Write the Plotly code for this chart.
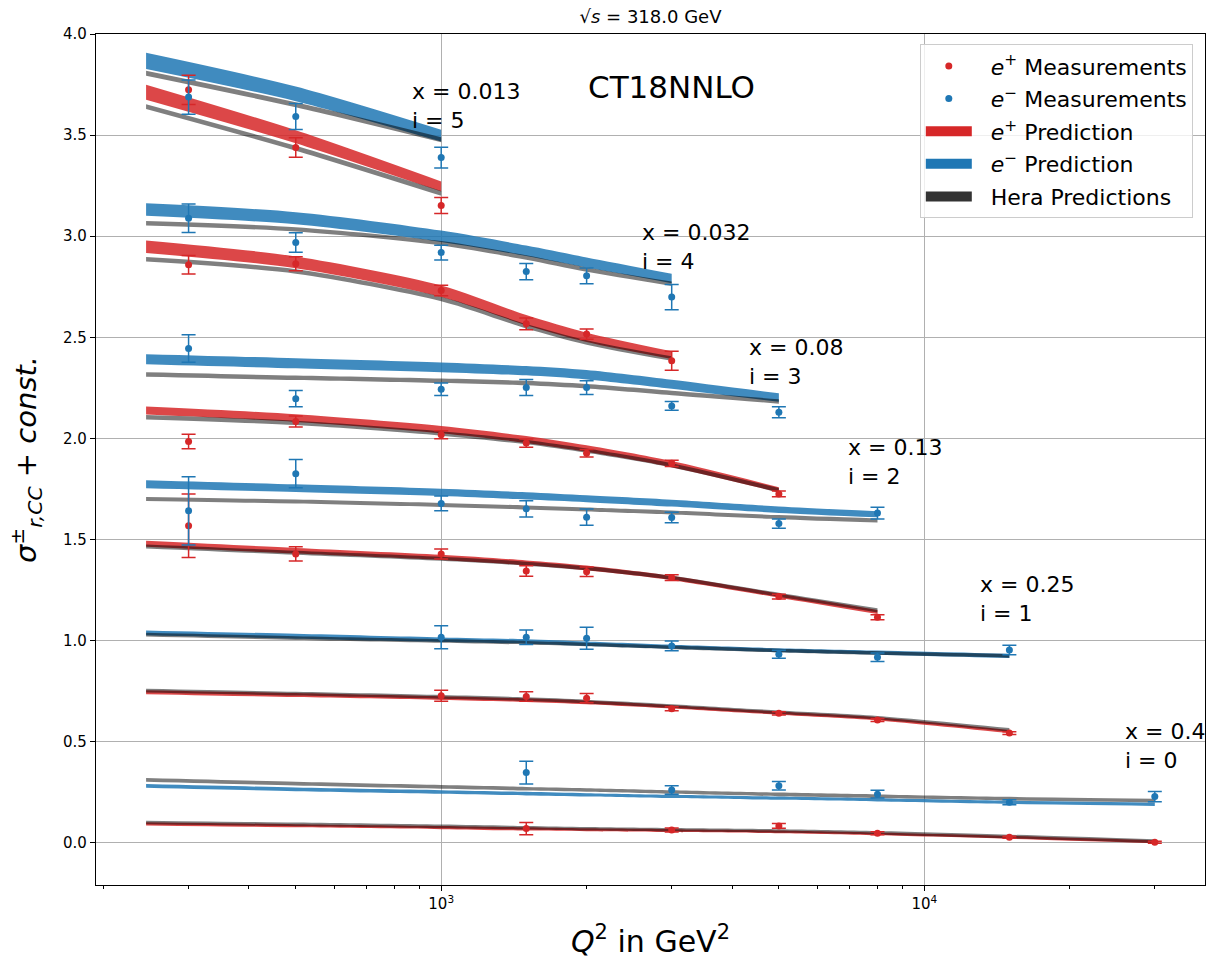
import plotly.graph_objects as go
import math

# ---------------- data ----------------
# prediction grid in Q^2 (GeV^2); bin i uses the first len(PRED_xx[i]) points
Q_GRID = [245, 500, 1000, 1500, 2000, 3000, 5000, 8000, 15000, 30000]

# Bjorken-x label of each bin i = 0..5
X_BIN = ["0.4", "0.25", "0.13", "0.08", "0.032", "0.013"]

# e+ prediction (central value + const.) and its half-width
PRED_EP = [
    [0.094, 0.085, 0.076, 0.069, 0.065, 0.061, 0.055, 0.045, 0.028, 0.006],
    [0.745, 0.731, 0.716, 0.706, 0.695, 0.673, 0.642, 0.614, 0.551],
    [1.479, 1.445, 1.412, 1.385, 1.360, 1.310, 1.223, 1.142],
    [2.138, 2.101, 2.044, 1.995, 1.950, 1.873, 1.746],
    [2.948, 2.871, 2.728, 2.585, 2.500, 2.412],
    [3.712, 3.492, 3.246],
]
UNC_EP = [
    [0.008, 0.008, 0.008, 0.008, 0.007, 0.007, 0.007, 0.007, 0.007, 0.007],
    [0.010, 0.010, 0.009, 0.009, 0.009, 0.008, 0.008, 0.008, 0.008],
    [0.015, 0.014, 0.013, 0.012, 0.012, 0.011, 0.010, 0.010],
    [0.020, 0.019, 0.018, 0.017, 0.016, 0.015, 0.013],
    [0.031, 0.029, 0.028, 0.025, 0.023, 0.019],
    [0.037, 0.032, 0.025],
]

# e- prediction
PRED_EM = [
    [0.282, 0.265, 0.252, 0.244, 0.238, 0.230, 0.221, 0.213, 0.201, 0.191],
    [1.039, 1.022, 1.005, 0.996, 0.985, 0.970, 0.953, 0.941, 0.925],
    [1.774, 1.754, 1.733, 1.716, 1.702, 1.680, 1.648, 1.625],
    [2.392, 2.372, 2.352, 2.335, 2.315, 2.268, 2.202],
    [3.132, 3.089, 3.000, 2.928, 2.870, 2.791],
    [3.867, 3.704, 3.497],
]
UNC_EM = [
    [0.009, 0.009, 0.009, 0.009, 0.008, 0.008, 0.008, 0.008, 0.008, 0.008],
    [0.012, 0.012, 0.011, 0.011, 0.011, 0.010, 0.010, 0.010, 0.010],
    [0.020, 0.019, 0.018, 0.018, 0.017, 0.017, 0.016, 0.015],
    [0.025, 0.025, 0.024, 0.023, 0.023, 0.022, 0.021],
    [0.031, 0.030, 0.028, 0.026, 0.025, 0.023],
    [0.040, 0.036, 0.029],
]

# HERA predictions (e+ and e-), half-width per bin
HERA_EP = [
    [0.101, 0.092, 0.082, 0.075, 0.070, 0.065, 0.059, 0.050, 0.032, 0.009],
    [0.753, 0.738, 0.722, 0.711, 0.699, 0.677, 0.646, 0.619, 0.559],
    [1.466, 1.435, 1.405, 1.381, 1.358, 1.311, 1.227, 1.150],
    [2.105, 2.077, 2.025, 1.982, 1.940, 1.867, 1.744],
    [2.886, 2.826, 2.690, 2.555, 2.475, 2.395],
    [3.641, 3.435, 3.212],
]
HERA_EM = [
    [0.312, 0.293, 0.277, 0.268, 0.262, 0.252, 0.240, 0.231, 0.219, 0.209],
    [1.030, 1.013, 0.999, 0.990, 0.981, 0.967, 0.951, 0.939, 0.925],
    [1.701, 1.688, 1.671, 1.659, 1.649, 1.634, 1.611, 1.594],
    [2.316, 2.300, 2.285, 2.274, 2.258, 2.225, 2.183],
    [3.064, 3.034, 2.965, 2.895, 2.835, 2.765],
    [3.806, 3.650, 3.477],
]
HERA_UNC = [0.009, 0.009, 0.010, 0.011, 0.011, 0.012]

# measurements
MEAS_Q = [
    [1500, 3000, 5000, 8000, 15000, 30000],
    [1000, 1500, 2000, 3000, 5000, 8000, 15000],
    [300, 500, 1000, 1500, 2000, 3000, 5000, 8000],
    [300, 500, 1000, 1500, 2000, 3000, 5000],
    [300, 500, 1000, 1500, 2000, 3000],
    [300, 500, 1000],
]
MEAS_EP = [
    [0.071, 0.064, 0.084, 0.048, 0.028, 0.003],
    [0.728, 0.724, 0.716, 0.664, 0.641, 0.608, 0.543],
    [1.568, 1.429, 1.429, 1.345, 1.341, 1.312, 1.218, 1.116],
    [1.985, 2.084, 2.018, 1.977, 1.927, 1.877, 1.726],
    [2.859, 2.864, 2.732, 2.567, 2.516, 2.384],
    [3.724, 3.439, 3.152],
]
ERR_EP = [
    [0.030, 0.010, 0.012, 0.007, 0.005, 0.005],
    [0.027, 0.023, 0.023, 0.010, 0.008, 0.007, 0.007],
    [0.157, 0.035, 0.025, 0.026, 0.023, 0.014, 0.012, 0.012],
    [0.036, 0.027, 0.020, 0.020, 0.019, 0.015, 0.014],
    [0.046, 0.035, 0.026, 0.029, 0.025, 0.047],
    [0.072, 0.048, 0.040],
]
MEAS_EM = [
    [0.348, 0.262, 0.283, 0.241, 0.201, 0.229],
    [1.017, 1.017, 1.012, 0.974, 0.933, 0.918, 0.954],
    [1.642, 1.826, 1.679, 1.652, 1.611, 1.609, 1.579, 1.631],
    [2.445, 2.197, 2.243, 2.252, 2.252, 2.161, 2.130],
    [3.089, 2.969, 2.919, 2.825, 2.804, 2.699],
    [3.688, 3.592, 3.389],
]
ERR_EM = [
    [0.056, 0.021, 0.021, 0.019, 0.012, 0.025],
    [0.057, 0.036, 0.054, 0.024, 0.020, 0.021, 0.024],
    [0.169, 0.070, 0.036, 0.040, 0.040, 0.026, 0.023, 0.029],
    [0.068, 0.040, 0.031, 0.040, 0.034, 0.022, 0.027],
    [0.071, 0.048, 0.036, 0.040, 0.039, 0.062],
    [0.085, 0.064, 0.051],
]

# label anchor heights for the "x = ..., i = ..." texts
LABEL_Y = [0.477, 1.204, 1.882, 2.379, 2.945, 3.642]

# ---------------- styles ----------------
RED = "#d62728"
BLUE = "#1f77b4"
RED_FILL = "rgba(214,39,40,0.85)"
BLUE_FILL = "rgba(31,119,180,0.85)"
HERA_FILL = "rgba(0,0,0,0.5)"
FONT = "DejaVu Sans"
PAD = "\u00a0\u00a0"

fig = go.Figure()


def band(q, center, unc, fill):
    lo = [c - u for c, u in zip(center, unc)]
    hi = [c + u for c, u in zip(center, unc)]
    fig.add_trace(go.Scatter(x=q, y=lo, mode="lines", line=dict(width=0, shape="spline", smoothing=0.8),
                             showlegend=False, hoverinfo="skip"))
    fig.add_trace(go.Scatter(x=q, y=hi, mode="lines", line=dict(width=0, shape="spline", smoothing=0.8),
                             fill="tonexty", fillcolor=fill, showlegend=False, hoverinfo="skip"))


for i in range(6):
    n = len(PRED_EP[i])
    q = Q_GRID[:n]
    band(q, PRED_EM[i], UNC_EM[i], BLUE_FILL)
    band(q, PRED_EP[i], UNC_EP[i], RED_FILL)

for i in range(6):
    n = len(PRED_EP[i])
    q = Q_GRID[:n]
    hw = [HERA_UNC[i]] * n
    band(q, HERA_EM[i], hw, HERA_FILL)
    band(q, HERA_EP[i], hw, HERA_FILL)

for i in range(6):
    for vals, errs, col in ((MEAS_EP[i], ERR_EP[i], RED), (MEAS_EM[i], ERR_EM[i], BLUE)):
        fig.add_trace(go.Scatter(
            x=MEAS_Q[i], y=vals, mode="markers",
            marker=dict(color=col, size=7),
            error_y=dict(type="data", array=errs, color=col, thickness=1.5, width=7),
            showlegend=False))

# legend entries
fig.add_trace(go.Scatter(x=[None], y=[None], mode="markers", marker=dict(color=RED, size=7),
                         name=PAD + "<i>e</i><sup>+</sup> Measurements", legendgroup="a"))
fig.add_trace(go.Scatter(x=[None], y=[None], mode="markers", marker=dict(color=BLUE, size=7),
                         name=PAD + "<i>e</i><sup>−</sup> Measurements", legendgroup="b"))
fig.add_trace(go.Scatter(x=[None], y=[None], mode="lines", line=dict(color=RED, width=15),
                         name=PAD + "<i>e</i><sup>+</sup> Prediction", legendgroup="c"))
fig.add_trace(go.Scatter(x=[None], y=[None], mode="lines", line=dict(color=BLUE, width=15),
                         name=PAD + "<i>e</i><sup>−</sup> Prediction", legendgroup="d"))
fig.add_trace(go.Scatter(x=[None], y=[None], mode="lines", line=dict(color="#333333", width=15),
                         name=PAD + "Hera Predictions", legendgroup="e"))

annotations = []
for i in range(6):
    qlast = MEAS_Q[i][-1]
    annotations.append(dict(
        x=math.log10(qlast * 0.86), y=LABEL_Y[i], xref="x", yref="y",
        text=f"x = {X_BIN[i]}<br>i = {i}", showarrow=False, xanchor="left", yanchor="middle",
        align="left", font=dict(family=FONT, size=22, color="black")))
annotations.append(dict(x=0.5185, y=0.9377, xref="paper", yref="paper", text="CT18NNLO",
                        showarrow=False, xanchor="center", yanchor="middle",
                        font=dict(family=FONT, size=31, color="black")))

minor_vals = [200, 300, 400, 500, 600, 700, 800, 900,
              2000, 3000, 4000, 5000, 6000, 7000, 8000, 9000, 20000, 30000]

fig.update_layout(
    width=1221, height=961,
    margin=dict(l=96, r=16, t=34, b=76),
    paper_bgcolor="white", plot_bgcolor="white",
    font=dict(family=FONT, color="black"),
    title=dict(text="√<i>s</i> = 318.0 GeV", x=0.5, xref="paper", y=1 - 17 / 961, yanchor="middle",
               font=dict(family=FONT, size=18, color="black")),
    xaxis=dict(type="log", range=[2.2855, 4.581], automargin=False,
               tickvals=[1000, 10000], ticktext=["10<sup>3</sup>", "10<sup>4</sup>"],
               ticks="outside", ticklen=5, tickcolor="black", tickwidth=1,
               tickfont=dict(family=FONT, size=15),
               showgrid=True, gridcolor="#b0b0b0", gridwidth=1,
               showline=True, linecolor="black", linewidth=1.2, mirror=True, zeroline=False,
               minor=dict(tickvals=minor_vals, ticks="outside", ticklen=3, tickcolor="black",
                          showgrid=False),
               title=dict(text="<i>Q</i><sup>2</sup> in GeV<sup>2</sup>",
                          font=dict(family=FONT, size=30), standoff=18)),
    yaxis=dict(range=[-0.208, 4.0], tick0=0, dtick=0.5, tickformat=".1f", automargin=False,
               ticks="outside", ticklen=5, tickcolor="black", tickwidth=1,
               tickfont=dict(family=FONT, size=15),
               showgrid=True, gridcolor="#b0b0b0", gridwidth=1,
               showline=True, linecolor="black", linewidth=1.2, mirror=True, zeroline=False,
               title=dict(text="<i>σ</i><sup>±</sup><sub><i>r,CC</i></sub> + <i>const.</i>",
                          font=dict(family=FONT, size=29), standoff=17)),
    legend=dict(x=0.989, y=0.988, xanchor="right", yanchor="top",
                bgcolor="rgba(255,255,255,0.8)", bordercolor="#cccccc", borderwidth=1,
                font=dict(family=FONT, size=22), tracegroupgap=1, itemwidth=46,
                traceorder="grouped"),
    annotations=annotations,
)

fig.write_html("out.html")
